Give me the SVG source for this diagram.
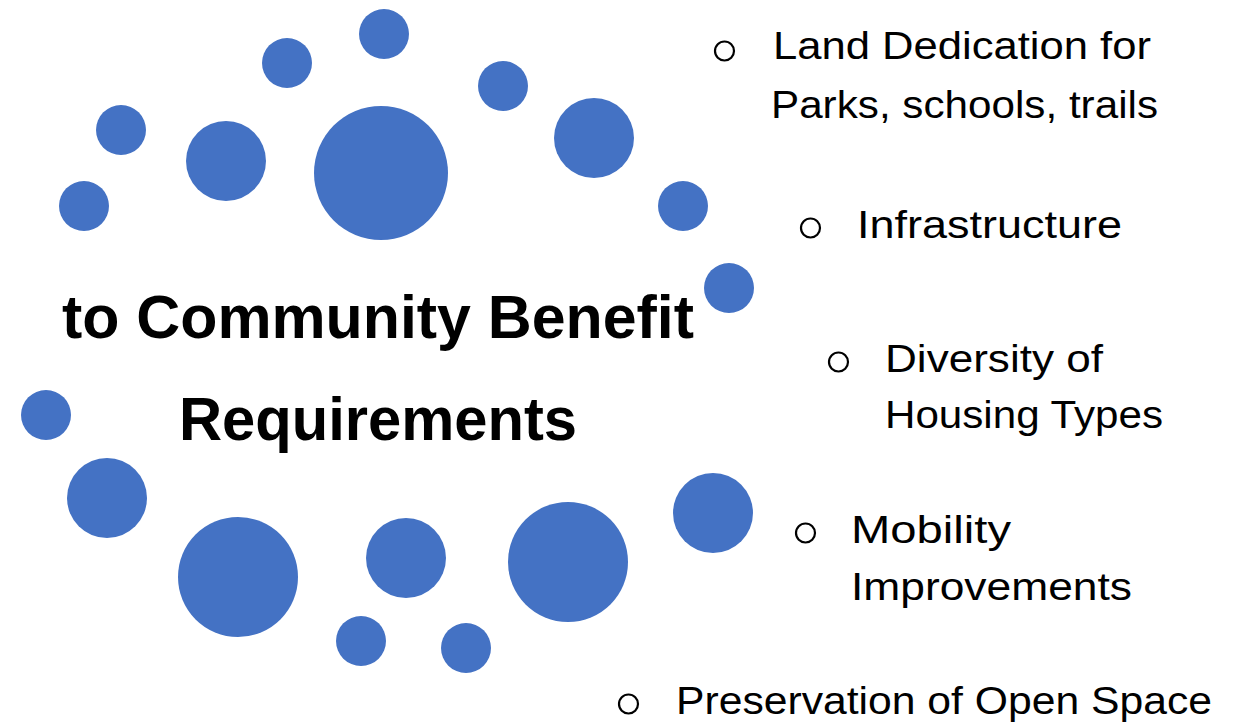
<svg xmlns="http://www.w3.org/2000/svg" width="1243" height="724" viewBox="0 0 1243 724">
<style>
.dot{fill:#4472C4}
.t{font-family:"Liberation Sans",Arial,sans-serif;font-size:38px;fill:#000}
.h{font-family:"Liberation Sans",Arial,sans-serif;font-size:62px;font-weight:bold;fill:#000}
.b{fill:none;stroke:#000;stroke-width:2.2}
</style>
<rect width="1243" height="724" fill="#fff"/>
<g id="dots">
<circle class="dot" cx="384" cy="34" r="25"/>
<circle class="dot" cx="287" cy="63" r="25"/>
<circle class="dot" cx="503" cy="86" r="25"/>
<circle class="dot" cx="121" cy="130" r="25"/>
<circle class="dot" cx="226" cy="161" r="40"/>
<circle class="dot" cx="381" cy="173" r="67"/>
<circle class="dot" cx="594" cy="138" r="40"/>
<circle class="dot" cx="84" cy="206" r="25"/>
<circle class="dot" cx="683" cy="206" r="25"/>
<circle class="dot" cx="729" cy="288" r="25"/>
<circle class="dot" cx="46" cy="415" r="25"/>
<circle class="dot" cx="107" cy="498" r="40"/>
<circle class="dot" cx="713" cy="513" r="40"/>
<circle class="dot" cx="238" cy="577" r="60"/>
<circle class="dot" cx="406" cy="558" r="40"/>
<circle class="dot" cx="568" cy="562" r="60"/>
<circle class="dot" cx="361" cy="641" r="25"/>
<circle class="dot" cx="466" cy="648" r="25"/>
</g>
<g id="title">
<text class="h" x="62" y="338" textLength="632" lengthAdjust="spacingAndGlyphs">to Community Benefit</text>
<text class="h" x="179" y="440" textLength="398" lengthAdjust="spacingAndGlyphs">Requirements</text>
</g>
<g id="item1">
<circle class="b" cx="724.5" cy="51" r="9.5"/>
<text class="t" x="773" y="59" textLength="378" lengthAdjust="spacingAndGlyphs">Land Dedication for</text>
<text class="t" x="771" y="118" textLength="387" lengthAdjust="spacingAndGlyphs">Parks, schools, trails</text>
</g>
<g id="item2">
<circle class="b" cx="810.5" cy="228" r="9.5"/>
<text class="t" x="857" y="238" textLength="265" lengthAdjust="spacingAndGlyphs">Infrastructure</text>
</g>
<g id="item3">
<circle class="b" cx="838.5" cy="362" r="9.5"/>
<text class="t" x="885" y="372" textLength="218" lengthAdjust="spacingAndGlyphs">Diversity of</text>
<text class="t" x="885" y="428" textLength="278" lengthAdjust="spacingAndGlyphs">Housing Types</text>
</g>
<g id="item4">
<circle class="b" cx="805.5" cy="533" r="9.5"/>
<text class="t" x="851" y="543" textLength="160" lengthAdjust="spacingAndGlyphs">Mobility</text>
<text class="t" x="851" y="600" textLength="281" lengthAdjust="spacingAndGlyphs">Improvements</text>
</g>
<g id="item5">
<circle class="b" cx="628.5" cy="704" r="9.5"/>
<text class="t" x="676" y="714" textLength="536" lengthAdjust="spacingAndGlyphs">Preservation of Open Space</text>
</g>
</svg>
